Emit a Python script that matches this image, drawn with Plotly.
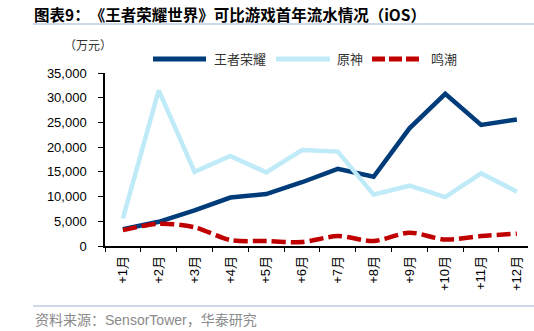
import plotly.graph_objects as go

months = ["+1月", "+2月", "+3月", "+4月", "+5月", "+6月", "+7月", "+8月", "+9月", "+10月", "+11月", "+12月"]
wzry = [3400, 4900, 7200, 9800, 10500, 12900, 15600, 14000, 23800, 30800, 24500, 25600]
ys = [5600, 31500, 15000, 18200, 14900, 19400, 19100, 10400, 12200, 9900, 14700, 11000]
mc = [3200, 4500, 3800, 1200, 1000, 800, 2000, 1000, 2700, 1300, 2000, 2500]
series_names = ["王者荣耀", "原神", "鸣潮"]
series_colors = ["#003B7A", "#BFEAF8", "#C00000"]

title_text = "图表9：\u3000《王者荣耀世界》可比游戏首年流水情况（iOS）"
unit_text = "（万元）"
source_text = "资料来源：SensorTower，华泰研究"

FONT = "Liberation Sans, Arial, Noto Sans CJK SC, sans-serif"
CJK = "Noto Sans CJK SC, sans-serif"

fig = go.Figure()
fig.add_trace(go.Scatter(x=months, y=wzry, name=series_names[0], mode="lines",
                         line=dict(color=series_colors[0], width=4.5), showlegend=False))
fig.add_trace(go.Scatter(x=months, y=ys, name=series_names[1], mode="lines",
                         line=dict(color=series_colors[1], width=4.5), showlegend=False))
fig.add_trace(go.Scatter(x=months, y=mc, name=series_names[2], mode="lines",
                         line=dict(color=series_colors[2], width=4.5, dash="14px,5px",
                                   shape="spline", smoothing=0.8), showlegend=False))

W, H = 534, 331
L, R, T, B = 105, 6, 73, 85
pw = W - L - R
ph = H - T - B

def px_x(x):
    return (x - L) / pw

def px_y(y):
    return (H - B - y) / ph

fig.update_layout(
    width=W, height=H,
    margin=dict(l=L, r=R, t=T, b=B),
    paper_bgcolor="white", plot_bgcolor="white",
    font=dict(family=FONT, size=12, color="#000000"),
    showlegend=False,
    xaxis=dict(type="category", range=[-0.5, 11.31], tickson="boundaries",
               showline=True, linecolor="#000000", linewidth=1.5,
               ticks="outside", ticklen=4, tickcolor="#000000", tickwidth=1.2,
               tickangle=-90, showgrid=False, zeroline=False, ticklabelstandoff=3,
               tickfont=dict(family=FONT, size=13, color="#000000")),
    yaxis=dict(range=[0, 35000], tickvals=[0, 5000, 10000, 15000, 20000, 25000, 30000, 35000],
               tickformat=",", showline=True, linecolor="#000000", linewidth=1.5,
               ticks="outside", ticklen=5, tickcolor="#000000", tickwidth=1.2,
               showgrid=False, zeroline=False, ticklabelstandoff=9,
               tickfont=dict(family=FONT, size=13, color="#000000")),
)

# manual legend
leg_y = px_y(59)
leg_items = [(153, 206, 212, None), (276, 330, 335, None), (372, 420, 429, "13px,4px")]
for (x0, x1, xt, dash), name, col in zip(leg_items, series_names, series_colors):
    fig.add_shape(type="line", xref="paper", yref="paper",
                  x0=px_x(x0), x1=px_x(x1), y0=leg_y, y1=leg_y,
                  line=dict(color=col, width=5, dash=dash))
    fig.add_annotation(text=name, xref="paper", yref="paper",
                       x=px_x(xt), y=leg_y, xanchor="left", yanchor="middle",
                       showarrow=False, font=dict(family=CJK, size=13, color="#333333"))

# title
fig.add_annotation(text="<b>" + title_text + "</b>", xref="paper", yref="paper",
                   x=px_x(32), y=px_y(14), xanchor="left", yanchor="middle",
                   showarrow=False, font=dict(family=CJK, size=15.5, color="#000000"))
fig.add_annotation(text=unit_text, xref="paper", yref="paper",
                   x=px_x(62), y=px_y(44), xanchor="left", yanchor="middle",
                   showarrow=False, font=dict(family=CJK, size=12, color="#333333"))
fig.add_annotation(text=source_text, xref="paper", yref="paper",
                   x=px_x(33), y=px_y(320), xanchor="left", yanchor="middle",
                   showarrow=False, font=dict(family=FONT, size=14, color="#8A8A8A"))

# separator lines
for yy in (24, 306):
    fig.add_shape(type="line", xref="paper", yref="paper",
                  x0=px_x(33), x1=px_x(534), y0=px_y(yy), y1=px_y(yy),
                  line=dict(color="#9DB5D6", width=1.2))

fig.write_html("out.html")
